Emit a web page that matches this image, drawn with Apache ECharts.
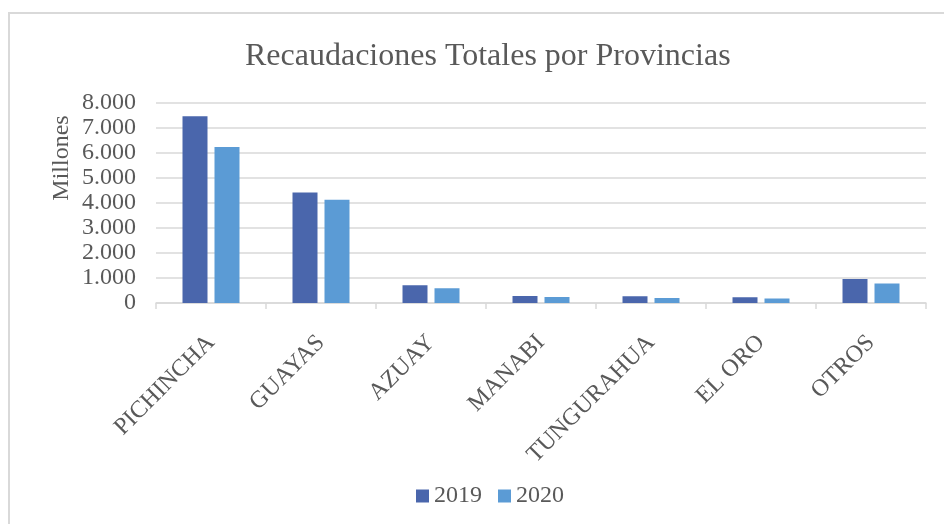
<!DOCTYPE html>
<html>
<head>
<meta charset="utf-8">
<script src="https://cdn.jsdelivr.net/npm/echarts@6/dist/echarts.min.js"></script>
<style>
html,body{margin:0;padding:0;background:#fff;}
#chart{width:944px;height:524px;}
</style>
</head>
<body>
<div id="chart"></div>
<script>
var provincias = ['PICHINCHA', 'GUAYAS', 'AZUAY', 'MANABI', 'TUNGURAHUA', 'EL ORO', 'OTROS'];
var datos2019 = [7470, 4420, 710, 280, 270, 230, 960];
var datos2020 = [6240, 4130, 590, 240, 200, 180, 780];
var yTicks = [0, 1000, 2000, 3000, 4000, 5000, 6000, 7000, 8000];

var fuente = '"Liberation Serif", "Times New Roman", serif';
var gris = '#595959';

var myChart = echarts.init(document.getElementById('chart'));

function fmt(v){
    // separador de miles con punto
    return String(v).replace(/\B(?=(\d{3})+(?!\d))/g, '.');
}

var option = {
    backgroundColor: '#fff',
    animation: false,
    title: {
        text: 'Recaudaciones Totales por Provincias',
        left: 240,
        top: 36,
        textStyle: {
            color: gris,
            fontFamily: fuente,
            fontSize: 32,
            fontWeight: 'normal'
        }
    },
    graphic: [{
        type: 'rect',
        shape: {x: 9, y: 13, width: 960, height: 540},
        style: {fill: 'none', stroke: '#d9d9d9', lineWidth: 2},
        silent: true
    }, {
        type: 'text',
        x: 62,
        y: 158,
        rotation: Math.PI / 2,
        style: {
            text: 'Millones',
            fill: gris,
            font: '24px ' + fuente,
            align: 'center',
            verticalAlign: 'middle'
        },
        silent: true
    }],
    legend: {
        bottom: 11,
        left: 411,
        itemWidth: 13,
        itemHeight: 13,
        itemGap: 16,
        icon: 'rect',
        textStyle: {color: gris, fontFamily: fuente, fontSize: 24},
        data: ['2019', '2020']
    },
    grid: {left: 156, right: 18, top: 103, bottom: 221, outerBoundsMode: 'none', containLabel: false},
    xAxis: {
        type: 'category',
        data: provincias,
        axisLine: {lineStyle: {color: '#d9d9d9', width: 1.5}},
        axisTick: {show: true, length: 6, lineStyle: {color: '#d9d9d9', width: 1.5}},
        axisLabel: {
            rotate: 45,
            margin: 36,
            color: gris,
            fontFamily: fuente,
            fontSize: 24
        }
    },
    yAxis: {
        type: 'value',
        min: yTicks[0],
        max: yTicks[yTicks.length - 1],
        interval: 1000,
        axisLine: {show: false},
        axisTick: {show: false},
        splitLine: {lineStyle: {color: '#d9d9d9', width: 1.5}},
        axisLabel: {
            margin: 20,
            color: gris,
            fontFamily: fuente,
            fontSize: 24,
            formatter: fmt
        }
    },
    series: [
        {
            name: '2019',
            type: 'bar',
            data: datos2019,
            barWidth: 25,
            barGap: '28%',
            itemStyle: {color: '#4a66ac'}
        },
        {
            name: '2020',
            type: 'bar',
            data: datos2020,
            barWidth: 25,
            itemStyle: {color: '#5b9bd5'}
        }
    ]
};

myChart.setOption(option);
window.onresize = myChart.resize;
</script>
</body>
</html>
